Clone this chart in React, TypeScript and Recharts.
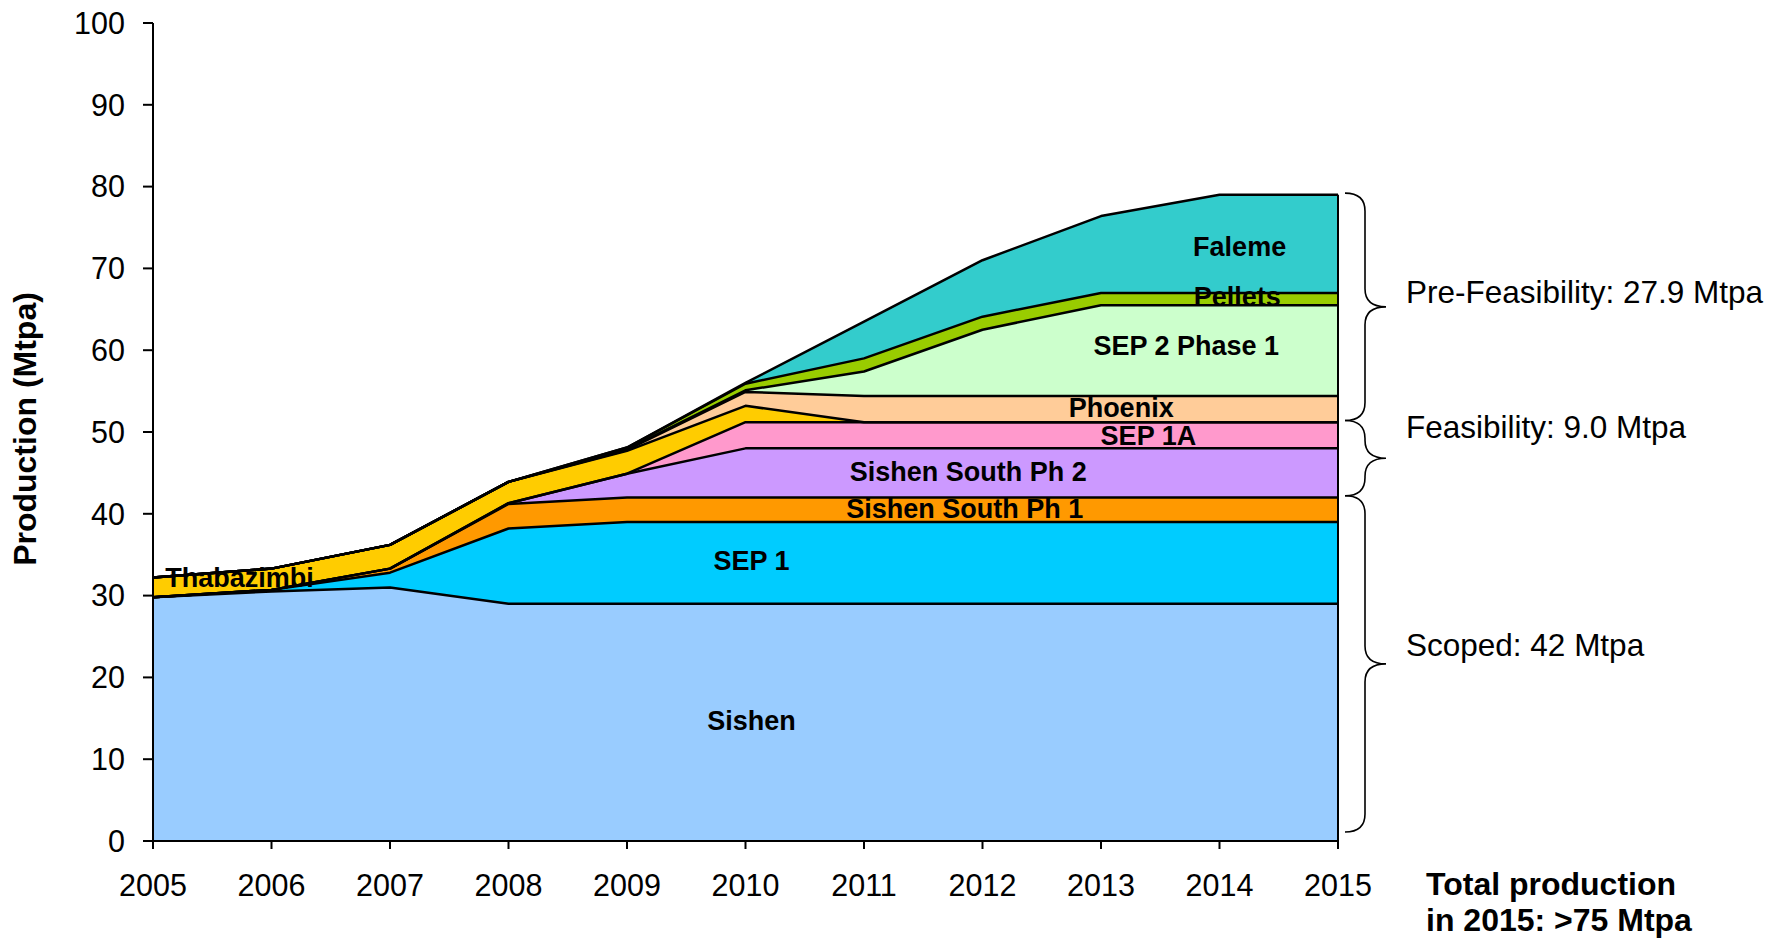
import { AreaChart, Area, XAxis, YAxis, ReferenceLine, ReferenceDot } from "recharts";

const FONT = "'Liberation Sans', Arial, sans-serif";

// production by project, Mtpa (stacked bottom -> top)
const years = [2005, 2006, 2007, 2008, 2009, 2010, 2011, 2012, 2013, 2014, 2015];
const sishen = [29.8, 30.5, 31, 29, 29, 29, 29, 29, 29, 29, 29];
const sep1 = [0, 0.2, 1.8, 9.2, 10, 10, 10, 10, 10, 10, 10];
const sishenSouth1 = [0, 0, 0.5, 3, 3, 3, 3, 3, 3, 3, 3];
const sishenSouth2 = [0, 0, 0, 0.1, 2.9, 6, 6, 6, 6, 6, 6];
const sep1a = [0, 0, 0, 0, 0, 3.2, 3.2, 3.2, 3.2, 3.2, 3.2];
const thabazimbi = [2.4, 2.6, 2.9, 2.6, 2.8, 2.0, 0, 0, 0, 0, 0];
const phoenix = [0, 0, 0, 0, 0.1, 1.7, 3.2, 3.2, 3.2, 3.2, 3.2];
const sep2Phase1 = [0, 0, 0, 0, 0.1, 0.2, 3.0, 8.1, 11.1, 11.1, 11.1];
const pellets = [0, 0, 0, 0, 0.2, 0.8, 1.6, 1.6, 1.5, 1.5, 1.5];
const faleme = [0, 0, 0, 0, 0, 0.1, 4.5, 6.9, 9.4, 12, 12];

const yTicks = [0, 10, 20, 30, 40, 50, 60, 70, 80, 90, 100];

const series = [
  { key: "sishen", color: "#99CCFF", values: sishen },
  { key: "sep1", color: "#00CCFF", values: sep1 },
  { key: "sishenSouth1", color: "#FF9900", values: sishenSouth1 },
  { key: "sishenSouth2", color: "#CC99FF", values: sishenSouth2 },
  { key: "sep1a", color: "#FF99CC", values: sep1a },
  { key: "thabazimbi", color: "#FFCC00", values: thabazimbi },
  { key: "phoenix", color: "#FFCC99", values: phoenix },
  { key: "sep2Phase1", color: "#CCFFCC", values: sep2Phase1 },
  { key: "pellets", color: "#99CC00", values: pellets },
  { key: "faleme", color: "#33CCCC", values: faleme },
];

// in-area labels (year, value where the text is centred)
const areaLabels = [
  { text: "Sishen", year: 2010.05, value: 14.7 },
  { text: "SEP 1", year: 2010.05, value: 34.2 },
  { text: "Sishen South Ph 1", year: 2011.85, value: 40.6 },
  { text: "Sishen South Ph 2", year: 2011.88, value: 45.1 },
  { text: "SEP 1A", year: 2013.4, value: 49.5 },
  { text: "Phoenix", year: 2013.17, value: 52.9 },
  { text: "SEP 2 Phase 1", year: 2013.72, value: 60.5 },
  { text: "Pellets", year: 2014.15, value: 66.5 },
  { text: "Faleme", year: 2014.17, value: 72.6 },
  { text: "Thabazimbi", year: 2005.73, value: 32.2 },
];

// braces on the right
const braces = [
  { text: "Pre-Feasibility: 27.9 Mtpa", from: 51.4, to: 79.2, dy: -15 },
  { text: "Feasibility: 9.0 Mtpa", from: 42.2, to: 51.4, dy: -31 },
  { text: "Scoped: 42 Mtpa", from: 1.1, to: 42.2, dy: -19 },
];

const data = years.map((year, i) => {
  const row: Record<string, number> = { year };
  series.forEach((s) => {
    row[s.key] = s.values[i];
  });
  return row;
});

const lastTotal = series.reduce((sum, s) => sum + s.values[s.values.length - 1], 0);

function areaText(text: string) {
  return (props: any) => {
    const vb = props.viewBox || {};
    const cx = (vb.x ?? 0) + (vb.width ?? 0) / 2;
    const cy = (vb.y ?? 0) + (vb.height ?? 0) / 2;
    return (
      <text
        x={cx}
        y={cy}
        textAnchor="middle"
        dominantBaseline="central"
        fontFamily={FONT}
        fontWeight={700}
        fontSize={27}
        fill="#000"
      >
        {text}
      </text>
    );
  };
}

function braceShape(text: string, dy: number) {
  return (props: any) => {
    const top = Math.min(props.y1, props.y2);
    const bot = Math.max(props.y1, props.y2);
    const x0 = props.x1 + 7;
    const xs = x0 + 20;
    const xt = xs + 21;
    const mid = (top + bot) / 2;
    const r = Math.min(18, (bot - top) / 4);
    const d =
      `M ${x0} ${top} Q ${xs} ${top} ${xs} ${top + r} L ${xs} ${mid - r} ` +
      `Q ${xs} ${mid} ${xt} ${mid} Q ${xs} ${mid} ${xs} ${mid + r} ` +
      `L ${xs} ${bot - r} Q ${xs} ${bot} ${x0} ${bot}`;
    return (
      <g>
        <path d={d} fill="none" stroke="#000" strokeWidth={1.6} />
        <text
          x={xt + 20}
          y={mid + dy}
          dominantBaseline="central"
          fontFamily={FONT}
          fontSize={31.5}
          fill="#000"
        >
          {text}
        </text>
      </g>
    );
  };
}

function YTitle(props: any) {
  const vb = props.viewBox || {};
  const x = (vb.x ?? 0) + 25;
  const y = (vb.y ?? 0) + (vb.height ?? 0) / 2 - 3;
  return (
    <text
      x={x}
      y={y}
      transform={`rotate(-90, ${x}, ${y})`}
      textAnchor="middle"
      dominantBaseline="central"
      fontFamily={FONT}
      fontWeight={700}
      fontSize={32}
      fill="#000"
    >
      Production (Mtpa)
    </text>
  );
}

export default function App() {
  return (
    <div style={{ position: "absolute", left: 0, top: 0, width: 1772, height: 940, background: "#fff" }}>
      <AreaChart
        width={1772}
        height={940}
        data={data}
        margin={{ top: 23, right: 434, bottom: 39, left: 0 }}
      >
        <XAxis
          type="number"
          dataKey="year"
          domain={[2005, 2015]}
          ticks={years}
          height={60}
          axisLine={{ stroke: "#000", strokeWidth: 2 }}
          tickLine={{ stroke: "#000", strokeWidth: 2 }}
          tickSize={8}
          tickMargin={25}
          tick={{ fill: "#000", fontSize: 30.5, fontFamily: FONT }}
          interval={0}
        />
        <YAxis
          domain={[0, 100]}
          ticks={yTicks}
          width={153}
          axisLine={{ stroke: "#000", strokeWidth: 2 }}
          tickLine={{ stroke: "#000", strokeWidth: 2 }}
          tickSize={10}
          tickMargin={18}
          tick={{ fill: "#000", fontSize: 30.5, fontFamily: FONT }}
          interval={0}
          label={{ content: YTitle }}
        />
        {/* fills */}
        {series.map((s) => (
          <Area
            key={s.key}
            type="linear"
            dataKey={s.key}
            stackId="fill"
            stroke="none"
            fill={s.color}
            fillOpacity={1}
            dot={false}
            activeDot={false}
            isAnimationActive={false}
          />
        ))}
        {/* outlines drawn on top so they keep their full width */}
        {series.map((s) => (
          <Area
            key={`${s.key}-line`}
            type="linear"
            dataKey={s.key}
            stackId="line"
            stroke="#000"
            strokeWidth={2.5}
            strokeLinejoin="round"
            fill="none"
            dot={false}
            activeDot={false}
            isAnimationActive={false}
          />
        ))}
        <ReferenceLine
          segment={[
            { x: 2015, y: 0 },
            { x: 2015, y: lastTotal },
          ]}
          stroke="#000"
          strokeWidth={2}
        />
        {areaLabels.map((l) => (
          <ReferenceDot
            key={l.text}
            x={l.year}
            y={l.value}
            r={1}
            fill="none"
            stroke="none"
            label={areaText(l.text)}
          />
        ))}
        {braces.map((b) => (
          <ReferenceLine
            key={b.text}
            segment={[
              { x: 2015, y: b.to },
              { x: 2015, y: b.from },
            ]}
            ifOverflow="visible"
            shape={braceShape(b.text, b.dy)}
          />
        ))}
      </AreaChart>
      <div
        style={{
          position: "absolute",
          left: 1426,
          top: 866,
          fontFamily: FONT,
          fontWeight: 700,
          fontSize: 32,
          lineHeight: "36px",
          color: "#000",
          whiteSpace: "nowrap",
        }}
      >
        Total production
        <br />
        in 2015: &gt;75 Mtpa
      </div>
    </div>
  );
}
